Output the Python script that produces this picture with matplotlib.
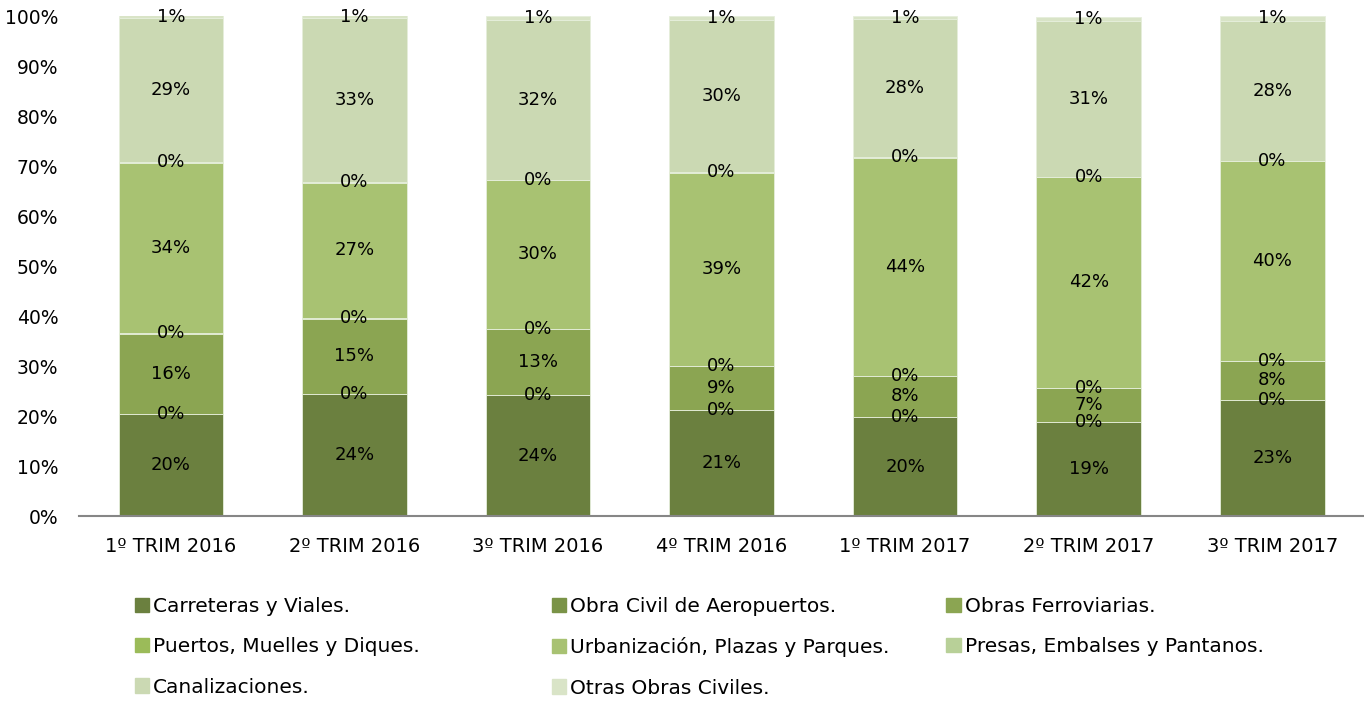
import matplotlib.pyplot as plt
from matplotlib.patches import Patch
import numpy as np

plt.rcParams['font.family'] = ['DejaVu Sans']

categories = ['1º TRIM 2016', '2º TRIM 2016', '3º TRIM 2016', '4º TRIM 2016',
              '1º TRIM 2017', '2º TRIM 2017', '3º TRIM 2017']

series_names = ['Carreteras y Viales.', 'Obra Civil de Aeropuertos.', 'Obras Ferroviarias.',
                'Puertos, Muelles y Diques.', 'Urbanización, Plazas y Parques.',
                'Presas, Embalses y Pantanos.', 'Canalizaciones.', 'Otras Obras Civiles.']

carreteras = [20.4, 24.4, 24.2, 21.2, 19.8, 18.8, 23.2]
aeropuertos = [0.1, 0.1, 0.1, 0.1, 0.1, 0.1, 0.1]
ferroviarias = [16.0, 15.0, 13.1, 8.7, 8.1, 6.7, 7.7]
puertos = [0.1, 0.1, 0.1, 0.1, 0.1, 0.1, 0.1]
urbanizacion = [34.1, 27.1, 29.7, 38.6, 43.6, 42.1, 39.9]
presas = [0.1, 0.1, 0.1, 0.1, 0.1, 0.1, 0.1]
canalizaciones = [28.8, 32.8, 32.0, 30.4, 27.6, 31.2, 28.0]
otras = [0.6, 0.6, 0.8, 0.8, 0.6, 0.8, 0.9]

colors = ['#6b803f', '#7a9347', '#8ba552', '#9bbb59', '#a8c272', '#b8d098',
          '#cbd9b3', '#d9e4c7']

data = [carreteras, aeropuertos, ferroviarias, puertos, urbanizacion, presas,
        canalizaciones, otras]

fig = plt.figure(figsize=(13.64, 7.04), dpi=100)
ax = fig.add_axes([0.058, 0.267, 0.942, 0.71])

x = np.arange(len(categories))
bottom = np.zeros(len(categories))
for vals, name, col in zip(data, series_names, colors):
    vals = np.array(vals)
    ax.bar(x, vals, 0.57, bottom=bottom, color=col, edgecolor='#e6eedb',
           linewidth=0.6, label=name)
    for xi, b, v in zip(x, bottom, vals):
        ax.text(xi, b + v / 2, f'{v:.0f}%', ha='center', va='center',
                fontsize=13, color='black')
    bottom += vals

ax.set_xlim(-0.5, len(categories) - 0.5)
ax.set_ylim(0, 100)
ax.set_yticks(range(0, 101, 10))
ax.set_yticklabels([f'{t}%' for t in range(0, 101, 10)], fontsize=13.5)
ax.set_xticks(x)
ax.set_xticklabels(categories, fontsize=14)
ax.tick_params(axis='y', length=0, pad=15)
ax.tick_params(axis='x', length=0, pad=15)
for side in ['top', 'right', 'left']:
    ax.spines[side].set_visible(False)
ax.spines['bottom'].set_color('#868686')
ax.spines['bottom'].set_linewidth(1.5)

# legend in three columns of fixed positions
handles = [Patch(color=c) for c in colors]
columns = [[0, 3, 6], [1, 4, 7], [2, 5]]
col_x = [0.093, 0.399, 0.688]
for idx, cx in zip(columns, col_x):
    fig.legend([handles[i] for i in idx], [series_names[i] for i in idx],
               loc='upper left', bbox_to_anchor=(cx, 0.163), frameon=False,
               fontsize=14.5, handlelength=0.7, handleheight=0.7,
               handletextpad=0.2, labelspacing=1.05, borderaxespad=0)

fig.savefig('out.png', dpi=100)
plt.close(fig)
